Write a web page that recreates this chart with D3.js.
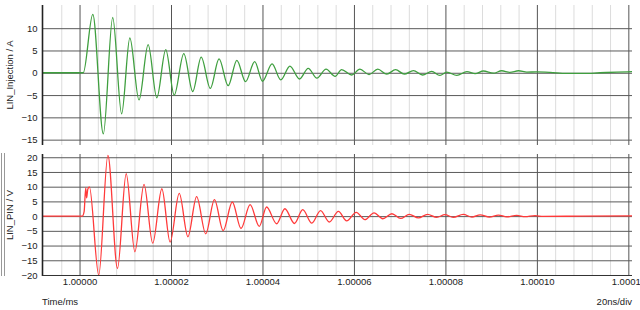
<!DOCTYPE html>
<html><head><meta charset="utf-8">
<script src="https://cdn.jsdelivr.net/npm/d3@7"></script>
<style>
html,body{margin:0;padding:0;background:#fff;}
svg{display:block;font-family:"Liberation Sans",Arial,sans-serif;}
</style></head><body>
<svg id="c" width="640" height="310"></svg>
<script>
// time in ns after 1.00000 ms
const xTicks = [0, 20, 40, 60, 80, 100, 120];
const xTickLabels = ["1.00000", "1.00002", "1.00004", "1.00006", "1.00008", "1.00010", "1.00012"];
const xMinorTicks = [-4, 4, 8, 12, 16, 24, 28, 32, 36, 44, 48, 52, 56, 64, 68, 72, 76, 84, 88, 92, 96, 104, 108, 112, 116];
const topTicks = [10, 5, 0, -5, -10, -15];
const botTicks = [20, 15, 10, 5, 0, -5, -10, -15, -20];

// LIN_Injection / A
const injT = [-8.1, 0.8, 2.9, 5.2, 7.25, 9.2, 11.0, 13.0, 15.0, 16.9, 18.85, 20.7, 22.8, 24.75, 26.6, 28.6, 30.5, 32.5, 34.4, 36.3, 38.3, 40.0, 42.1, 44.0, 46.0, 48.1, 50.0, 51.9, 53.9, 55.9, 57.3, 59.5, 61.3, 63.3, 65.2, 67.2, 69.1, 71.0, 73.0, 75.0, 77.0, 78.8, 80.3, 82.5, 84.7, 86.5, 88.3, 90.5, 92.3, 94.1, 96.0, 97.8, 100, 102.9, 106.5, 110.2, 113.8, 117.5, 121];
const injV = [0, 0, 13.1, -13.7, 12.4, -9.2, 7.8, -6.1, 6.3, -5.6, 5.2, -5.0, 4.3, -4.2, 3.5, -3.5, 3.1, -2.9, 2.8, -2.0, 2.5, -1.9, 2.0, -1.6, 1.5, -1.4, 1.0, -1.2, 0.8, -0.8, 0.7, -0.5, 0.8, -0.4, 0.8, -0.3, 0.7, -0.3, 0.5, -0.5, 0.3, -0.6, 0.15, -0.6, 0.25, -0.2, 0.4, -0.1, 0.45, 0.1, 0.45, 0.15, 0.2, 0.1, -0.15, -0.15, 0.0, 0.15, 0.25];

// LIN_PIN / V
const pinT = [-8.1, 0.6, 1.0, 1.35, 1.55, 1.8, 2.15, 4.2, 6.2, 8.3, 10.2, 12.1, 14.1, 16.0, 18.0, 19.8, 21.8, 23.7, 25.6, 27.6, 29.5, 31.4, 33.4, 35.3, 37.3, 39.3, 40.9, 43.1, 44.9, 47.0, 48.8, 50.8, 52.7, 54.6, 56.6, 58.4, 60.5, 62.4, 64.4, 66.3, 68.3, 70.2, 72.1, 74.1, 76.1, 78.1, 79.9, 81.7, 83.9, 85.8, 87.6, 89.6, 91.6, 93.4, 95.6, 97.4, 99.6, 101.4, 110, 121];
const pinV = [0, 0, 1.5, 9.6, 6.2, 9.1, 9.9, -20.0, 20.6, -17.8, 14.4, -12.1, 10.8, -9.2, 9.3, -8.8, 7.7, -7.0, 6.6, -6.0, 5.6, -4.9, 4.8, -4.2, 3.9, -3.5, 3.1, -2.6, 2.5, -2.5, 2.2, -2.4, 1.9, -2.0, 1.6, -1.6, 1.3, -1.2, 1.1, -0.9, 0.8, -0.8, 0.6, -0.6, 0.6, -0.4, 0.5, -0.45, 0.6, -0.35, 0.45, -0.35, 0.35, -0.25, 0.25, -0.2, 0.15, -0.1, 0.0, 0.05];

const svg = d3.select("#c");
const L = 42.5, R = 632;
const x = d3.scaleLinear().domain([-8.1, 120.8]).range([L, R]);

const panels = [
  {id: "top", y: d3.scaleLinear().domain([-16.2, 15.2]).range([145, 5]), ticks: topTicks,
   T: injT, V: injV, color: "#3f9f3f", label: "LIN_Injection / A"},
  {id: "bot", y: d3.scaleLinear().domain([-20.34, 21.1]).range([276, 154]), ticks: botTicks,
   T: pinT, V: pinV, color: "#ff3a3a", label: "LIN_PIN / V"}
];

panels.forEach(p => {
  const [yb, yt] = p.y.range();
  const g = svg.append("g");
  // minor vertical grid
  g.append("g").attr("transform", `translate(0,${yb})`)
    .call(d3.axisBottom(x).tickValues(xMinorTicks).tickSize(-(yb - yt)).tickFormat(""))
    .call(s => s.select(".domain").remove())
    .call(s => s.selectAll("line").attr("stroke", "#dcdcdc").attr("stroke-width", 1));
  // major vertical grid
  g.append("g").attr("transform", `translate(0,${yb})`)
    .call(d3.axisBottom(x).tickValues(xTicks).tickSize(-(yb - yt)).tickFormat(""))
    .call(s => s.select(".domain").remove())
    .call(s => s.selectAll("line").attr("stroke", "#555").attr("stroke-width", 1));
  // horizontal grid
  g.append("g").attr("transform", `translate(${L},0)`)
    .call(d3.axisLeft(p.y).tickValues(p.ticks).tickSize(-(R - L)).tickFormat(""))
    .call(s => s.select(".domain").remove())
    .call(s => s.selectAll("line").attr("stroke", "#5a5a5a").attr("stroke-width", 1));
  // y tick labels
  g.append("g").attr("transform", `translate(${L},0)`)
    .call(d3.axisLeft(p.y).tickValues(p.ticks).tickSize(0).tickPadding(5))
    .call(s => s.select(".domain").remove())
    .call(s => s.selectAll("text").attr("font-size", 9.5).attr("fill", "#222")
      .attr("font-family", '"Liberation Sans",Arial,sans-serif'));
  // clip + trace
  const cid = "clip-" + p.id;
  svg.append("clipPath").attr("id", cid).append("rect")
    .attr("x", L).attr("y", yt).attr("width", R - L).attr("height", yb - yt);
  const line = d3.line().x(i => x(p.T[i])).y(i => p.y(p.V[i])).curve(d3.curveMonotoneX);
  g.append("path").attr("clip-path", `url(#${cid})`)
    .attr("d", line(d3.range(p.T.length)))
    .attr("fill", "none").attr("stroke", p.color).attr("stroke-width", 1.3);
  // left axis line
  g.append("line").attr("x1", L).attr("x2", L).attr("y1", yt).attr("y2", yb)
    .attr("stroke", "#222").attr("stroke-width", 1.6);
  // y label
  g.append("text")
    .attr("transform", `translate(13,${(yt + yb) / 2}) rotate(-90)`)
    .attr("text-anchor", "middle").attr("font-size", 9.5).attr("fill", "#222")
    .text(p.label);
});

// bottom axis line and labels
const yb = panels[1].y.range()[0];
svg.append("line").attr("x1", L).attr("x2", R).attr("y1", yb - 0.5).attr("y2", yb - 0.5)
  .attr("stroke", "#333").attr("stroke-width", 1.2);
svg.append("g").attr("transform", `translate(0,${yb})`)
  .call(d3.axisBottom(x).tickValues(xTicks).tickSize(0).tickPadding(2.5)
    .tickFormat((d, i) => xTickLabels[i]))
  .call(s => s.select(".domain").remove())
  .call(s => s.selectAll("text").attr("font-size", 9.5).attr("fill", "#222")
    .attr("font-family", '"Liberation Sans",Arial,sans-serif'));

// splitter handle lines at left of lower panel
[1.5, 4.5].forEach(px => {
  svg.append("line").attr("x1", px).attr("x2", px).attr("y1", 153).attr("y2", 276)
    .attr("stroke", "#999").attr("stroke-width", 1);
});

svg.append("text").attr("x", 42).attr("y", 305).attr("font-size", 9.5).attr("fill", "#222").text("Time/ms");
svg.append("text").attr("x", 632).attr("y", 305).attr("text-anchor", "end").attr("font-size", 9.5).attr("fill", "#222").text("20ns/div");
</script>
</body></html>
